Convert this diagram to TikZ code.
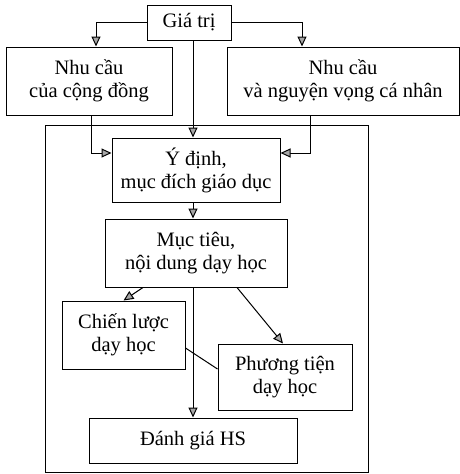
\documentclass[tikz,border=0pt]{standalone}
\usepackage{fontspec}
\setmainfont{Liberation Serif}
\usetikzlibrary{arrows.meta}
\begin{document}
\begin{tikzpicture}[x=1pt,y=-1pt,
  box/.style={draw, line width=1pt, rectangle, align=center, inner sep=0pt,
    font=\fontsize{20.5}{23}\selectfont},
  arr/.style={draw, line width=1pt, -{Triangle[length=10pt,width=9pt,fill=gray!70]}},
  ln/.style={draw, line width=1pt}]
\useasboundingbox (0,0) rectangle (460,474);
\node[draw, line width=1pt, minimum width=323pt, minimum height=347pt, inner sep=0pt] (frame) at (206.5,298.5) {};
\node[box, minimum width=84pt, minimum height=35pt] (gia) at (189,22.5) {Giá trị};
\node[box, minimum width=166pt, minimum height=68pt] (ncl) at (89,81) {Nhu cầu\\của cộng đồng};
\node[box, minimum width=232pt, minimum height=68pt] (ncr) at (343,81) {Nhu cầu\\và nguyện vọng cá nhân};
\node[box, minimum width=168pt, minimum height=64pt] (ydinh) at (196,170) {Ý định,\\mục đích giáo dục};
\node[box, minimum width=182pt, minimum height=68pt] (muctieu) at (196,253) {Mục tiêu,\\nội dung dạy học};
\node[box, minimum width=123pt, minimum height=68pt] (chien) at (123.5,335) {Chiến lược\\dạy học};
\node[box, minimum width=134pt, minimum height=66pt] (pt) at (285,377) {Phương tiện\\dạy học};
\node[box, minimum width=208pt, minimum height=45pt] (dg) at (193,440.5) {Đánh giá HS};
% connectors
\draw[arr] (gia.west) -| ([xshift=7pt]ncl.north);
\draw[arr] (gia.east) -| ([xshift=-41pt]ncr.north);
\draw[arr] (gia.south -| dg.north) -- (ydinh.north -| dg.north);
\draw[arr] ([xshift=2pt]ncl.south) |- ([yshift=17pt]ydinh.west);
\draw[arr] ([xshift=-33pt]ncr.south) |- ([yshift=17pt]ydinh.east);
\draw[arr] (ydinh.south -| dg.north) -- (muctieu.north -| dg.north);
\draw[arr] ([xshift=-53pt]muctieu.south) -- (chien.north);
\draw[arr] ([xshift=41pt]muctieu.south) -- ([xshift=-2pt]pt.north);
\draw[arr] (muctieu.south -| dg.north) -- (dg.north);
\draw[ln] ([yshift=-13pt]chien.east) -- ([yshift=8pt]pt.west);
\end{tikzpicture}
\end{document}
